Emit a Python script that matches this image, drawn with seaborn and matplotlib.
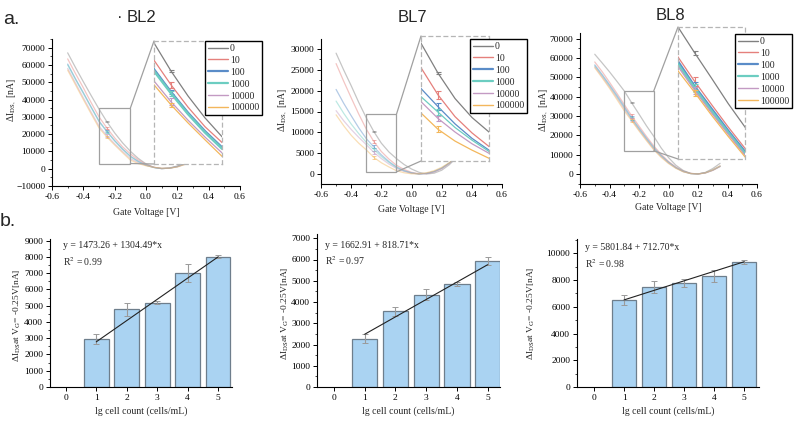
import matplotlib
matplotlib.use("Agg")
import numpy as np
import pandas as pd
import matplotlib.pyplot as plt
import seaborn as sns
from matplotlib.lines import Line2D
from matplotlib.patches import Rectangle, ConnectionPatch
from matplotlib.ticker import MultipleLocator

sns.set_theme(style="ticks")
plt.rcParams["font.family"] = ["Liberation Serif", "DejaVu Serif"]
plt.rcParams["mathtext.fontset"] = "stix"
plt.rcParams["axes.unicode_minus"] = True

# ---------------- data ----------------
concentrations = ["0", "10", "100", "1000", "10000", "100000"]
curve_colors = ["#808080", "#e5807c", "#5a8cc8", "#6ccdc1", "#c39ac3", "#f3b75c"]

marker_v = -0.25  # gate voltage where error bars are drawn

# BL2 transfer curves
gate_v_bl2 = [-0.5, -0.45, -0.4, -0.35, -0.3, -0.25, -0.2, -0.15, -0.1, -0.05, 0.0, 0.05, 0.1, 0.15, 0.2, 0.25, 0.3]
bl2_0 = [67000, 58500, 50300, 42300, 34500, 27200, 20700, 15000, 10100, 6000, 2800, 800, 0, 400, 1600, 3500, 6000]
bl2_10 = [63500, 55000, 46800, 38200, 30000, 23600, 17800, 12700, 8600, 5100, 2500, 800, 100, 300, 1300, 3000, 5300]
bl2_100 = [60500, 52000, 44000, 35700, 27600, 21700, 16300, 11500, 7300, 4300, 2100, 700, 100, 300, 1200, 2800, 5000]
bl2_1000 = [60000, 51600, 43500, 35300, 27200, 21400, 16000, 11200, 7000, 4100, 2000, 700, 100, 300, 1200, 2800, 5000]
bl2_10000 = [58000, 49500, 41000, 32700, 24600, 19200, 14400, 10000, 5900, 3500, 1900, 800, 200, 300, 1100, 2600, 4700]
bl2_100000 = [57000, 48500, 40000, 31700, 23600, 18400, 13700, 9300, 5000, 3000, 1700, 800, 300, 300, 1000, 2500, 4500]
bl2_err = [300, 700, 600, 600, 900, 500]

# BL7 transfer curves
gate_v_bl7 = [-0.5, -0.45, -0.4, -0.35, -0.3, -0.25, -0.2, -0.15, -0.1, -0.05, 0.0, 0.05, 0.1, 0.15, 0.2, 0.25, 0.3]
bl7_0 = [29000, 25000, 21200, 17200, 13500, 10200, 7400, 5300, 3700, 2300, 1200, 400, 0, 200, 900, 2200, 4000]
bl7_10 = [26500, 22300, 18300, 14400, 10800, 7800, 5400, 3600, 2100, 1100, 400, 50, 100, 500, 1300, 2600, 4300]
bl7_100 = [20300, 17000, 14000, 11100, 8500, 6500, 4600, 3000, 1700, 800, 250, 0, 150, 600, 1400, 2600, 4200]
bl7_1000 = [17500, 14600, 12000, 9700, 7600, 5900, 4200, 2800, 1550, 750, 250, 0, 150, 600, 1400, 2600, 4100]
bl7_10000 = [15200, 12800, 10700, 8800, 7050, 5200, 3700, 2400, 1350, 650, 200, 0, 150, 550, 1300, 2500, 4000]
bl7_100000 = [14200, 11600, 9300, 7400, 5800, 4000, 2700, 1700, 800, 300, 50, 50, 300, 800, 1600, 2700, 4000]
bl7_err = [150, 450, 350, 350, 300, 350]

# BL8 transfer curves
gate_v_bl8 = [-0.5, -0.45, -0.4, -0.35, -0.3, -0.25, -0.2, -0.15, -0.1, -0.05, 0.0, 0.05, 0.1, 0.15, 0.2, 0.25, 0.3, 0.35]
bl8_0 = [62000, 57500, 52900, 48000, 43000, 36900, 31000, 25000, 19500, 13500, 8500, 4500, 1800, 300, 0, 800, 2800, 5500]
bl8_10 = [58000, 53000, 47500, 41800, 35950, 30200, 24800, 19500, 14500, 10200, 6500, 3600, 1500, 300, 0, 500, 1800, 3800]
bl8_100 = [56500, 51500, 46200, 40700, 34900, 29000, 23800, 18600, 13700, 9600, 6100, 3300, 1300, 200, 0, 600, 2000, 4000]
bl8_1000 = [56000, 51000, 45700, 40100, 34300, 28600, 23300, 18200, 13300, 9300, 5900, 3200, 1300, 200, 0, 600, 2000, 4000]
bl8_10000 = [55500, 50400, 45100, 39500, 33700, 28100, 22800, 17800, 12900, 9000, 5700, 3100, 1200, 200, 0, 600, 2000, 4100]
bl8_100000 = [55000, 49800, 44400, 38600, 32700, 27600, 22300, 17300, 12500, 8600, 5400, 2900, 1100, 200, 0, 600, 2100, 4200]
bl8_err = [400, 1100, 1000, 900, 800, 700]

# bar charts (lg cell count 1..5)
lg_labels = ["0", "1", "2", "3", "4", "5"]
lg_used = ["1", "2", "3", "4", "5"]
bl2_bar = [2950, 4790, 5190, 7000, 8020]
bl2_bar_err = [300, 400, 100, 550, 100]
bl7_bar = [2280, 3555, 4340, 4845, 5930]
bl7_bar_err = [230, 200, 250, 80, 200]
bl8_bar = [6515, 7510, 7760, 8330, 9375]
bl8_bar_err = [350, 450, 300, 450, 150]
fit_bl2 = (1473.26, 1304.49, "0.99")
fit_bl7 = (1662.91, 818.71, "0.97")
fit_bl8 = (5801.84, 712.70, "0.98")

# ---------------- layout helpers ----------------
W, H = 795, 421
fig = plt.figure(figsize=(W / 100, H / 100), dpi=100)


def px_axes(l, t, r, b, **kw):
    return fig.add_axes([l / W, 1 - b / H, (r - l) / W, (b - t) / H], **kw)


def set_label_px(ax, box, xlab_y, ylab_xy):
    l, t, r, b = box
    ax.yaxis.set_label_coords((ylab_xy[0] - l) / (r - l), (b - ylab_xy[1]) / (b - t))
    ax.xaxis.set_label_coords(0.5, (b - xlab_y) / (b - t))


TICK_FS = 6.8
LABEL_FS = 7.0
GRAY = "#a0a0a0"


def style_axes(ax):
    for s in ["top", "right"]:
        ax.spines[s].set_visible(False)
    for s in ["left", "bottom"]:
        ax.spines[s].set_linewidth(0.8)
        ax.spines[s].set_color("black")
    ax.tick_params(which="major", direction="out", length=3, width=0.7, labelsize=TICK_FS, pad=1.8, colors="black")
    ax.tick_params(which="minor", direction="out", length=1.6, width=0.6)
    ax.set_facecolor("white")


def transfer_panel(ax_box, inset_box, legend_xy, gate_v, curves, errs, ylim, ymaj, ymin,
                   rect, thick_inset, xlab_y, ylab_xy):
    ax = px_axes(*ax_box)
    style_axes(ax)
    for ys, col in zip(curves, curve_colors):
        sns.lineplot(x=gate_v, y=ys, ax=ax, color=col, alpha=0.45, lw=0.9, sort=False, estimator=None)
    for ys, col, e in zip(curves, curve_colors, errs):
        ax.errorbar([marker_v], [ys[gate_v.index(marker_v)]], yerr=[e], color=col, alpha=0.6,
                    lw=0.7, capsize=1.5, capthick=0.7, fmt="none")
    ax.set_xlim(-0.6, 0.6)
    ax.set_ylim(*ylim)
    ax.xaxis.set_major_locator(MultipleLocator(0.2))
    ax.xaxis.set_minor_locator(MultipleLocator(0.1))
    ax.yaxis.set_major_locator(MultipleLocator(ymaj))
    ax.yaxis.set_minor_locator(MultipleLocator(ymin))
    ax.xaxis.set_major_formatter(matplotlib.ticker.FormatStrFormatter("%.1f"))
    ax.set_xlabel("Gate Voltage [V]", fontsize=LABEL_FS, va="center")
    ax.set_ylabel(r"ΔI$_{\rm DS,}$ [nA]", fontsize=LABEL_FS, va="center")
    set_label_px(ax, ax_box, xlab_y, ylab_xy)

    # zoom rectangle
    x0, x1, y0, y1 = rect
    ax.add_patch(Rectangle((x0, y0), x1 - x0, y1 - y0, fill=False, ec=GRAY, lw=0.9, zorder=3))

    ins = px_axes(*inset_box, zorder=5)
    ins.set_facecolor("white")
    for ys, col, e in zip(curves, curve_colors, errs):
        lw = 1.8 if (thick_inset and col in (curve_colors[2], curve_colors[3])) else 0.9
        sns.lineplot(x=gate_v, y=ys, ax=ins, color=col, lw=lw, sort=False, estimator=None)
        ins.errorbar([marker_v], [ys[gate_v.index(marker_v)]], yerr=[e], color=col,
                     lw=0.8, capsize=1.8, capthick=0.8, fmt="none")
    ins.set_xlim(x0, x1)
    ins.set_ylim(y0, y1)
    ins.set_xticks([])
    ins.set_yticks([])
    ins.set_xlabel("")
    ins.set_ylabel("")
    for s in ins.spines.values():
        s.set_linestyle((0, (3, 3)))
        s.set_color("#b5b5b5")
        s.set_linewidth(0.9)
    for xyA, xyB in [((x1, y1), (0, 1)), ((x1, y0), (0, 0))]:
        cp = ConnectionPatch(xyA=xyA, coordsA=ax.transData, xyB=xyB, coordsB=ins.transAxes,
                             color=GRAY, lw=0.9, zorder=4)
        fig.add_artist(cp)

    handles = [Line2D([], [], color=c, lw=1.6 if (i in (2, 3)) else 1.0) for i, c in enumerate(curve_colors)]
    fig.legend(handles, concentrations, loc="upper left",
               bbox_to_anchor=(legend_xy[0] / W, 1 - legend_xy[1] / H), borderaxespad=0,
               fontsize=7.0, frameon=True, fancybox=False, edgecolor="black", framealpha=1,
               labelspacing=0.3, handlelength=2.1, handletextpad=0.15, borderpad=0.3)
    return ax


transfer_panel((52, 39, 240, 186), (154, 41, 222, 164), (205, 41), gate_v_bl2,
               [bl2_0, bl2_10, bl2_100, bl2_1000, bl2_10000, bl2_100000], bl2_err,
               (-10000, 75000), 10000, 5000, (-0.3, -0.1, 3000, 35000), True, 213, (12, 100))
transfer_panel((321, 39, 502, 184), (421, 36, 489, 161), (470, 39), gate_v_bl7,
               [bl7_0, bl7_10, bl7_100, bl7_1000, bl7_10000, bl7_100000], bl7_err,
               (-2400, 32400), 5000, 2500, (-0.3, -0.1, 500, 14300), False, 210, (283, 110))
transfer_panel((580, 33, 757, 184), (678, 27, 745, 159), (735, 34), gate_v_bl8,
               [bl8_0, bl8_10, bl8_100, bl8_1000, bl8_10000, bl8_100000], bl8_err,
               (-5200, 73000), 10000, 5000, (-0.3, -0.1, 12000, 43000), True, 208, (544, 110))


def bar_panel(ax_box, vals, errs, fit, xlim, ylim, ymaj, ymin, text_xy, xlab_y, ylab_xy):
    ax = px_axes(*ax_box)
    style_axes(ax)
    df = pd.DataFrame({"lg": lg_used, "val": vals})
    sns.barplot(data=df, x="lg", y="val", order=lg_labels, ax=ax, color="#aad3f2",
                saturation=1, width=0.82, edgecolor="#6e7e8c", linewidth=0.9, errorbar=None)
    pos = [lg_labels.index(c) for c in lg_used]
    ax.errorbar(pos, vals, yerr=errs, fmt="none", ecolor="#9a9a9a", lw=0.8, capsize=2, capthick=0.7)
    b0, b1, r2 = fit
    xs = [pos[0], pos[-1]]
    ax.plot(xs, [b0 + b1 * float(lg_used[0]), b0 + b1 * float(lg_used[-1])], color="#222222", lw=0.8)
    ax.set_xlim(*xlim)
    ax.set_ylim(*ylim)
    ax.yaxis.set_major_locator(MultipleLocator(ymaj))
    ax.yaxis.set_minor_locator(MultipleLocator(ymin))
    ax.set_xlabel("lg cell count (cells/mL)", fontsize=LABEL_FS, va="center")
    ax.set_ylabel(r"ΔI$_{\rm DS}$at V$_{\rm G}$= -0.25V[nA]", fontsize=6.8, va="center")
    set_label_px(ax, ax_box, xlab_y, ylab_xy)
    fig.text(text_xy[0] / W, 1 - text_xy[1] / H, f"y = {b0:.2f} + {b1:.2f}*x",
             fontsize=7, va="center", ha="left")
    fig.text(text_xy[0] / W, 1 - (text_xy[1] + 16) / H, f"R$^2$ = {r2}",
             fontsize=7, va="center", ha="left")
    return ax


bar_panel((50, 239, 232, 387), bl2_bar, bl2_bar_err, fit_bl2, (-0.52, 5.46), (0, 9100), 1000, 500,
          (63, 246), 411, (17, 315))
bar_panel((317, 234, 500, 387), bl7_bar, bl7_bar_err, fit_bl7, (-0.55, 5.4), (0, 7200), 1000, 500,
          (325, 245), 411, (285, 313))
bar_panel((577, 239, 759, 387), bl8_bar, bl8_bar_err, fit_bl8, (-0.57, 5.5), (0, 11070), 2000, 1000,
          (585, 248), 411, (531, 313))

# titles / panel letters
sans = ["Liberation Sans", "DejaVu Sans"]
fig.text(11 / W, 1 - 19 / H, "a.", fontsize=14, family=sans, ha="center", va="center")
fig.text(8 / W, 1 - 222 / H, "b.", fontsize=14, family=sans, ha="center", va="center")
fig.text(120 / W, 1 - 18 / H, "·", fontsize=12, family=sans, ha="center", va="center")
fig.text(142 / W, 1 - 18 / H, "BL2", fontsize=12, family=sans, ha="center", va="center")
fig.text(412 / W, 1 - 17 / H, "BL7", fontsize=12, family=sans, ha="center", va="center")
fig.text(670 / W, 1 - 15 / H, "BL8", fontsize=12, family=sans, ha="center", va="center")

fig.savefig("out.png", dpi=100, facecolor="white")
